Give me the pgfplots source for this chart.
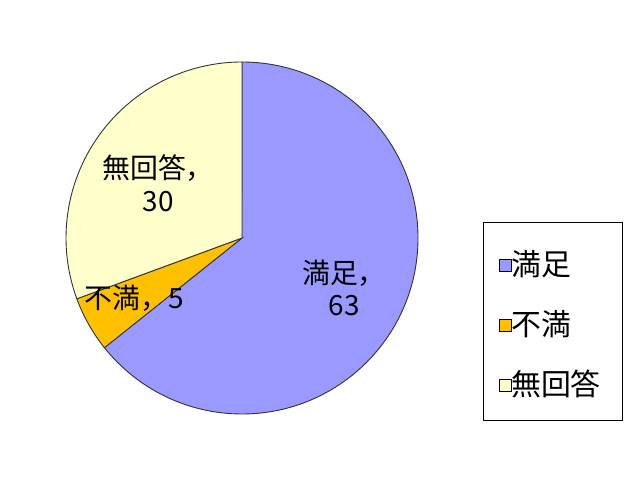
\documentclass[border=0pt]{standalone}
\usepackage{pgfplots}
\pgfplotsset{compat=1.18}
\usepackage{fontspec}
\setmainfont{Liberation Sans}
\newfontfamily\cjk{Noto Sans CJK JP}
\definecolor{cSat}{HTML}{9999FF}
\definecolor{cDis}{HTML}{FFC000}
\definecolor{cNon}{HTML}{FFFFCC}
\begin{document}
\begin{tikzpicture}[x=1bp,y=1bp]
\begin{axis}[
    scale only axis, width=640bp, height=480bp,
    xmin=0, xmax=640, ymin=0, ymax=480,
    hide axis, clip=false,
]
\path[fill=white] (axis cs:0,0) rectangle (axis cs:640,480);
% pie: 満足 63, 不満 5, 無回答 30 ; centre (242,242), radius 176
\pgfmathsetmacro{\tot}{63+5+30}
\pgfmathsetmacro{\aA}{90}
\pgfmathsetmacro{\aB}{90-63/\tot*360}
\pgfmathsetmacro{\aC}{\aB-5/\tot*360}
\pgfmathsetmacro{\aD}{\aC-30/\tot*360}
\filldraw[fill=cSat, draw=black!80, line width=0.9bp]
  (axis cs:242,242) -- ++(\aA:176bp) arc[start angle=\aA, end angle=\aB, radius=176bp] -- cycle;
\filldraw[fill=cDis, draw=black!80, line width=0.9bp]
  (axis cs:242,242) -- ++(\aB:176bp) arc[start angle=\aB, end angle=\aC, radius=176bp] -- cycle;
\filldraw[fill=cNon, draw=black!80, line width=0.9bp]
  (axis cs:242,242) -- ++(\aC:176bp) arc[start angle=\aC, end angle=\aD, radius=176bp] -- cycle;
% slice labels
\node[font=\cjk\fontsize{28}{31}\selectfont, align=center, inner sep=0pt]
  at (axis cs:344,192) {満足，\\[2bp]63};
\node[font=\cjk\fontsize{28}{31}\selectfont, align=center, inner sep=0pt]
  at (axis cs:158,297) {無回答，\\[2bp]30};
\node[font=\cjk\fontsize{28}{31}\selectfont, inner sep=0pt]
  at (axis cs:134,182) {不満，5};
% legend
\draw[black, line width=0.9bp] (axis cs:483,60) rectangle (axis cs:622,258);
\filldraw[fill=cSat, draw=black, line width=0.8bp] (axis cs:499,209) rectangle (axis cs:511,221);
\filldraw[fill=cDis, draw=black, line width=0.8bp] (axis cs:499,149) rectangle (axis cs:511,161);
\filldraw[fill=cNon, draw=black, line width=0.8bp] (axis cs:499,89) rectangle (axis cs:511,101);
\node[font=\cjk\fontsize{30}{33}\selectfont, anchor=west, inner sep=0pt] at (axis cs:511,216) {満足};
\node[font=\cjk\fontsize{30}{33}\selectfont, anchor=west, inner sep=0pt] at (axis cs:511,156) {不満};
\node[font=\cjk\fontsize{30}{33}\selectfont, anchor=west, inner sep=0pt] at (axis cs:511,96) {無回答};
\end{axis}
\end{tikzpicture}
\end{document}
